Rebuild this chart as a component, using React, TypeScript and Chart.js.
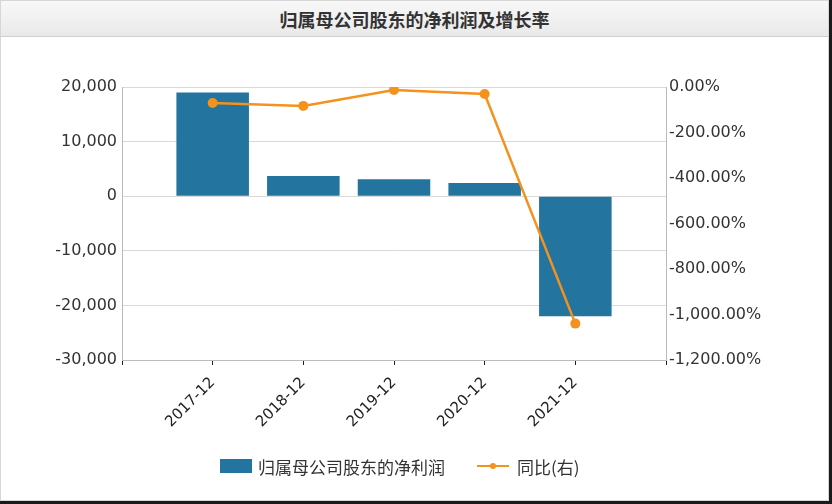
import React, { useEffect, useRef } from "react";
import { Chart, registerables } from "chart.js";

Chart.register(...registerables);

const categories = ["2017-12", "2018-12", "2019-12", "2020-12", "2021-12"];
const netProfit = [19000, 3700, 3100, 2400, -22000];
const yoyGrowth = [-70, -83, -13, -31, -1040];
const leftTicks = { min: -30000, max: 20000, step: 10000 };
const rightTicks = { min: -1200, max: 0, step: 200 };
const titleText = "归属母公司股东的净利润及增长率";
const barLabel = "归属母公司股东的净利润";
const lineLabel = "同比(右)";

const BLUE = "#23749f";
const ORANGE = "#f5921e";
const CW = 829;
const CH = 420;
const CTOP = 38;

export default function App() {
  const ref = useRef<HTMLCanvasElement>(null);
  useEffect(() => {
    if (!ref.current) return;
    const labels = ["", ...categories, ""];
    const bars = [null, ...netProfit, null];
    const line = [null, ...yoyGrowth, null];
    const tickFont = { family: "DejaVu Sans", size: 16 };
    const chart = new Chart(ref.current, {
      data: {
        labels,
        datasets: [
          {
            type: "line",
            label: lineLabel,
            data: line,
            yAxisID: "y1",
            borderColor: ORANGE,
            backgroundColor: ORANGE,
            borderWidth: 2.5,
            pointRadius: 5,
            pointBackgroundColor: ORANGE,
            pointBorderWidth: 0,
            tension: 0,
            order: 0,
          } as any,
          {
            type: "bar",
            label: barLabel,
            data: bars,
            yAxisID: "y",
            backgroundColor: BLUE,
            borderWidth: 0,
            categoryPercentage: 1,
            barPercentage: 0.8,
            order: 1,
          } as any,
        ],
      },
      options: {
        animation: false,
        responsive: false,
        maintainAspectRatio: false,
        layout: { padding: { top: 87 - CTOP, left: 0, right: 0, bottom: 0 } },
        plugins: { legend: { display: false }, tooltip: { enabled: false }, title: { display: false } },
        scales: {
          x: {
            type: "category",
            offset: false,
            grid: {
              offset: false,
              drawOnChartArea: false,
              drawTicks: true,
              tickLength: 5,
              tickColor: "#222",
              lineWidth: 1,
            },
            border: { color: "#bbb" },
            ticks: {
              color: "#222",
              font: { family: "DejaVu Sans", size: 15 },
              minRotation: 45,
              maxRotation: 45,
              autoSkip: false,
              padding: 9,
            },
            afterFit: (s: any) => {
              s.height = CH - (360 - CTOP);
            },
          },
          y: {
            type: "linear",
            position: "left",
            min: leftTicks.min,
            max: leftTicks.max,
            grid: { color: "#d9d9d9", drawTicks: false, lineWidth: 1 },
            border: { color: "#bbb" },
            ticks: {
              stepSize: leftTicks.step,
              color: "#333",
              font: tickFont,
              padding: 5,
              callback: (v: any) => Number(v).toLocaleString("en-US"),
            },
            afterFit: (s: any) => {
              s.width = 122;
            },
          },
          y1: {
            type: "linear",
            position: "right",
            min: rightTicks.min,
            max: rightTicks.max,
            grid: { drawOnChartArea: false, drawTicks: false },
            border: { color: "#bbb" },
            ticks: {
              stepSize: rightTicks.step,
              color: "#333",
              font: tickFont,
              padding: 3,
              callback: (v: any) =>
                Number(v).toLocaleString("en-US", { minimumFractionDigits: 2, maximumFractionDigits: 2 }) + "%",
            },
            afterFit: (s: any) => {
              s.width = CW - 666;
            },
          },
        },
      } as any,
    });
    return () => chart.destroy();
  }, []);

  const legendFont = '"Noto Sans CJK SC", "DejaVu Sans", sans-serif';
  return (
    <div
      style={{
        position: "absolute",
        left: 0,
        top: 0,
        width: 832,
        height: 504,
        boxSizing: "border-box",
        background: "#fff",
        borderRight: "3px solid #1a1a1a",
        borderBottom: "3px solid #1a1a1a",
        overflow: "hidden",
      }}
    >
      <div
        style={{
          position: "absolute",
          left: 0,
          top: 0,
          width: 829,
          height: 501,
          boxSizing: "border-box",
          border: "1px solid #d6d6d6",
        }}
      />
      <div
        style={{
          position: "absolute",
          left: 1,
          top: 1,
          width: 827,
          height: 36,
          boxSizing: "border-box",
          background: "linear-gradient(#f8f8f8, #e9e9e9)",
          borderBottom: "1px solid #cfcfcf",
          textAlign: "center",
          fontFamily: legendFont,
          fontWeight: "bold",
          fontSize: 18,
          lineHeight: "36px",
          color: "#333",
        }}
      >
        {titleText}
      </div>
      <canvas
        ref={ref}
        width={CW}
        height={CH}
        style={{ position: "absolute", left: 0, top: CTOP, width: CW, height: CH }}
      />
      <div
        style={{
          position: "absolute",
          left: 220,
          top: 454,
          height: 24,
          display: "flex",
          alignItems: "center",
          fontFamily: legendFont,
          fontSize: 17,
          color: "#333",
          whiteSpace: "nowrap",
        }}
      >
        <span style={{ display: "inline-block", width: 32, height: 14, background: BLUE, marginRight: 6 }} />
        <span>{barLabel}</span>
        <span style={{ position: "relative", display: "inline-block", width: 32, height: 14, marginLeft: 32, marginRight: 8 }}>
          <span style={{ position: "absolute", left: 0, top: 6, width: 32, height: 2, background: ORANGE }} />
          <span
            style={{ position: "absolute", left: 13, top: 4, width: 6, height: 6, borderRadius: 3, background: ORANGE }}
          />
        </span>
        <span>{lineLabel}</span>
      </div>
    </div>
  );
}
